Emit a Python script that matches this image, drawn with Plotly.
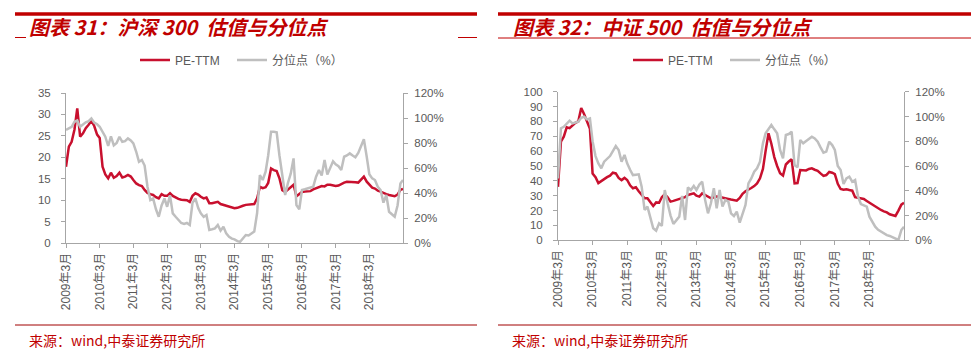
import pandas as pd
import plotly.graph_objects as go

# ---------------- data ----------------
dates = pd.date_range("2009-03-01", periods=121, freq="MS")

hs300_pe = [17.8, 22.5, 23.6, 26.5, 31.4, 24.8, 25.6, 26.8, 27.6, 28.5,
            27.3, 25.3, 24.5, 17.8, 16.0, 15.1, 16.4, 15.2, 15.6, 16.4,
            15.3, 15.5, 15.9, 15.5, 14.7, 13.9, 13.5, 13.3, 12.4, 11.7,
            11.4, 11.2, 10.7, 10.4, 11.4, 11.0, 11.0, 11.6, 11.0, 10.6,
            10.3, 10.1, 10.1, 10.0, 9.6, 11.0, 11.6, 11.3, 10.8, 10.4,
            10.6, 9.3, 9.3, 9.4, 9.6, 9.1, 8.9, 8.6, 8.4, 8.2,
            8.1, 8.2, 8.5, 8.7, 8.9, 9.0, 9.0, 9.1, 10.4, 13.1,
            12.8, 13.0, 14.0, 17.4, 17.0, 16.8, 15.1, 12.3, 11.9, 12.5,
            13.0, 13.6, 10.9, 11.4, 11.9, 12.0, 12.1, 12.1, 12.5, 12.8,
            13.0, 13.3, 13.2, 13.6, 13.6, 13.5, 13.3, 13.4, 13.8, 14.1,
            14.3, 14.3, 14.3, 14.2, 14.1, 14.8, 15.5, 14.3, 13.6, 12.9,
            12.7, 12.2, 12.0, 11.6, 11.4, 11.2, 11.0, 10.9, 11.3, 12.4,
            12.6]

hs300_pct = [90.4, 91.5, 93.0, 97.0, 98.0, 93.0, 95.0, 96.5, 97.5, 99.7,
             96.3, 95.0, 93.0, 89.0, 85.0, 77.6, 85.3, 78.1, 80.0, 85.0,
             81.0, 81.5, 83.7, 82.0, 79.7, 73.0, 65.0, 66.4, 62.0, 45.0,
             34.4, 35.7, 27.0, 21.0, 30.0, 35.7, 29.0, 38.1, 23.7, 21.0,
             18.4, 16.0, 15.2, 16.0, 14.4, 32.1, 35.7, 28.0, 23.7, 21.0,
             22.4, 10.4, 11.0, 11.7, 14.4, 9.9, 13.0, 7.7, 5.0, 3.5,
             2.9, 1.5, 1.0, 3.5, 6.4, 6.0, 7.5, 9.1, 24.0, 54.4,
             50.4, 57.0, 70.0, 89.0, 89.0, 88.5, 70.0, 55.7, 38.4, 48.0,
             55.7, 67.7, 30.4, 27.0, 42.4, 43.0, 43.7, 44.0, 45.0, 53.0,
             58.4, 54.0, 66.4, 54.7, 60.0, 65.4, 63.0, 61.4, 58.4, 69.0,
             70.0, 71.7, 70.0, 68.6, 72.0, 78.0, 83.0, 69.0, 55.0, 51.7,
             50.4, 45.0, 42.4, 32.3, 38.4, 25.0, 23.0, 21.0, 30.0, 47.7,
             50.4]

zz500_pe = [36.0, 66.4, 69.7, 76.0, 75.5, 77.5, 79.0, 80.0, 89.0, 85.0,
            79.8, 75.0, 45.0, 42.5, 38.5, 40.0, 41.2, 42.5, 43.5, 45.5,
            45.0, 42.0, 40.5, 42.0, 40.6, 37.0, 35.0, 35.7, 33.0, 30.5,
            28.3, 28.3, 26.0, 23.1, 25.5, 25.3, 29.0, 31.0, 29.0, 26.0,
            26.5, 27.1, 27.8, 28.3, 29.0, 30.5, 31.0, 31.6, 30.0, 29.4,
            31.6, 30.5, 29.4, 28.3, 29.0, 29.4, 29.2, 28.9, 28.3, 27.8,
            27.4, 27.1, 26.7, 28.5, 31.3, 33.0, 33.9, 35.2, 36.5, 38.3,
            41.7, 48.0, 60.0, 72.0, 65.0, 56.0, 50.0, 45.1, 43.5, 51.0,
            53.0, 54.5, 38.3, 38.5, 47.3, 46.9, 47.0, 48.0, 48.4, 47.5,
            46.8, 45.0, 43.3, 43.9, 46.0, 45.5, 44.6, 38.0, 34.5, 34.0,
            34.3, 33.8, 33.4, 29.0, 28.5, 28.3, 27.8, 26.5, 25.3, 24.0,
            22.8, 21.8, 20.4, 19.5, 18.8, 17.5, 16.8, 16.4, 20.0, 24.0,
            25.3]

zz500_pct = [50.0, 90.5, 91.7, 94.0, 96.6, 94.4, 95.0, 95.8, 99.0, 99.8,
             97.7, 98.5, 80.0, 68.0, 62.0, 58.1, 63.5, 66.0, 68.0, 72.0,
             76.1, 72.9, 63.5, 68.9, 62.1, 57.0, 52.7, 53.0, 53.3, 43.3,
             24.5, 27.2, 19.1, 9.7, 7.8, 13.7, 11.6, 40.6, 29.9, 20.0,
             13.2, 16.4, 19.1, 35.8, 16.4, 42.8, 40.6, 43.9, 40.6, 45.0,
             47.3, 32.6, 21.8, 29.9, 42.0, 25.8, 40.6, 27.2, 32.6, 31.2,
             21.8, 19.6, 23.1, 14.3, 22.0, 28.5, 46.0, 50.0, 55.4, 58.1,
             63.5, 78.3, 86.4, 90.0, 93.1, 89.6, 86.4, 72.9, 66.2, 85.0,
             85.8, 87.7, 60.8, 58.9, 81.0, 78.3, 80.0, 81.5, 83.7, 82.3,
             79.6, 75.0, 70.8, 71.6, 79.6, 76.9, 72.9, 60.0, 56.8, 45.5,
             50.0, 51.4, 47.3, 48.7, 35.2, 29.3, 28.0, 27.2, 19.1, 15.0,
             11.0, 8.5, 7.0, 5.1, 4.2, 3.5, 2.4, 1.0, 0.3, 8.3,
             11.0]

tick_years = list(range(2009, 2019))
tick_dates = [pd.Timestamp(f"{y}-03-01") for y in tick_years]
tick_text = [f"{y}年3月" for y in tick_years]

left_title = "图表 31：沪深 300  估值与分位点"
right_title = "图表 32：中证 500  估值与分位点"
source_text = "来源：wind,中泰证券研究所"
name_pe = "PE-TTM"
name_pct = "分位点（%）"

# ---------------- style ----------------
WIN_W, WIN_H = 979, 357
OFF = 8                      # page body margin
W, H = WIN_W - 2 * OFF, WIN_H - 2 * OFF
RED = "#C8102E"
GRAY = "#BFBFBF"
AXIS = "#A6A6A6"
TXT = "#595959"
DARKRED = "#C00000"
FONT = "Liberation Sans, Arial, Noto Sans CJK SC, sans-serif"
CJK = "Noto Sans CJK SC, sans-serif"

def px(x):
    return (x - OFF) / W

def py(y):
    return 1 - (y - OFF) / H

fig = go.Figure()

fig.add_trace(go.Scatter(x=dates, y=hs300_pe, name=name_pe, mode="lines",
                         line=dict(color=RED, width=2.5), xaxis="x", yaxis="y",
                         legend="legend"))
fig.add_trace(go.Scatter(x=dates, y=hs300_pct, name=name_pct, mode="lines",
                         line=dict(color=GRAY, width=2.5), xaxis="x", yaxis="y2",
                         legend="legend2"))
fig.add_trace(go.Scatter(x=dates, y=zz500_pe, name=name_pe, mode="lines",
                         line=dict(color=RED, width=2.5), xaxis="x2", yaxis="y3",
                         legend="legend3"))
fig.add_trace(go.Scatter(x=dates, y=zz500_pct, name=name_pct, mode="lines",
                         line=dict(color=GRAY, width=2.5), xaxis="x2", yaxis="y4",
                         legend="legend4"))

xcommon = dict(type="date", range=[dates[0], dates[-1]], tickmode="array",
               tickvals=tick_dates, ticktext=tick_text, tickangle=-90,
               showline=True, linecolor=AXIS, linewidth=1, ticks="outside",
               ticklen=4, tickcolor=AXIS, showgrid=False, zeroline=False,
               automargin=False,
               tickfont=dict(family=FONT, size=12, color=TXT))
ycommon = dict(showline=True, linecolor=AXIS, linewidth=1, ticks="outside",
               ticklen=4, tickcolor=AXIS, showgrid=False, zeroline=False,
               automargin=False,
               tickfont=dict(family=FONT, size=11.5, color=TXT))

def leg(xpix):
    return dict(orientation="h", x=px(xpix - 5), y=py(60), xanchor="left",
                yanchor="middle", font=dict(family=FONT, size=12, color=TXT),
                bgcolor="rgba(0,0,0,0)", itemwidth=30)

fig.update_layout(
    template="none",
    width=W, height=H, margin=dict(l=0, r=0, t=0, b=0, autoexpand=False),
    paper_bgcolor="white", plot_bgcolor="white", showlegend=True,
    xaxis=dict(domain=[px(66), px(403)], anchor="y", **xcommon),
    yaxis=dict(domain=[py(243), py(93)], anchor="x", range=[0, 35], dtick=5,
               ticklabelstandoff=8, **ycommon),
    yaxis2=dict(overlaying="y", side="right", anchor="x", range=[0, 120], dtick=20,
                ticksuffix="%", ticklabelstandoff=4, **ycommon),
    xaxis2=dict(domain=[px(558), px(904)], anchor="y3", **xcommon),
    yaxis3=dict(domain=[py(240.3), py(91.7)], anchor="x2", range=[0, 100], dtick=10,
                ticklabelstandoff=8, **ycommon),
    yaxis4=dict(overlaying="y3", side="right", anchor="x2", range=[0, 120], dtick=20,
                ticksuffix="%", ticklabelstandoff=4, **ycommon),
    legend=leg(140),
    legend2=leg(237),
    legend3=leg(633),
    legend4=leg(730),
)

shapes = []
# thick title bars
shapes.append(dict(type="line", xref="paper", yref="paper", x0=px(15), x1=px(477),
                   y0=py(14), y1=py(14), line=dict(color=DARKRED, width=3.5)))
shapes.append(dict(type="line", xref="paper", yref="paper", x0=px(498), x1=px(971),
                   y0=py(14), y1=py(14), line=dict(color=DARKRED, width=3.5)))
# thin lines under titles
shapes.append(dict(type="line", xref="paper", yref="paper", x0=px(15), x1=px(26),
                   y0=py(37.5), y1=py(37.5), line=dict(color=DARKRED, width=1)))
shapes.append(dict(type="line", xref="paper", yref="paper", x0=px(458), x1=px(477),
                   y0=py(37.5), y1=py(37.5), line=dict(color=DARKRED, width=1)))
shapes.append(dict(type="line", xref="paper", yref="paper", x0=px(498), x1=px(971),
                   y0=py(38), y1=py(38), line=dict(color=DARKRED, width=1)))
# source separator lines
shapes.append(dict(type="line", xref="paper", yref="paper", x0=px(15), x1=px(477),
                   y0=py(325), y1=py(325), line=dict(color="#A00000", width=1)))
shapes.append(dict(type="line", xref="paper", yref="paper", x0=px(498), x1=px(971),
                   y0=py(325), y1=py(325), line=dict(color="#A00000", width=1)))
fig.update_layout(shapes=shapes)

annotations = []
for x0, t in [(27, left_title), (511, right_title)]:
    annotations.append(dict(text=f"<b><i>{t}</i></b>", x=px(x0), y=py(27),
                            xref="paper", yref="paper", xanchor="left", yanchor="middle",
                            showarrow=False,
                            font=dict(family=CJK, size=20, color=DARKRED)))
for x0 in [27, 510]:
    annotations.append(dict(text=source_text, x=px(x0), y=py(340),
                            xref="paper", yref="paper", xanchor="left", yanchor="middle",
                            showarrow=False,
                            font=dict(family=CJK, size=14, color=DARKRED)))
fig.update_layout(annotations=annotations)

fig.write_html("out.html")
